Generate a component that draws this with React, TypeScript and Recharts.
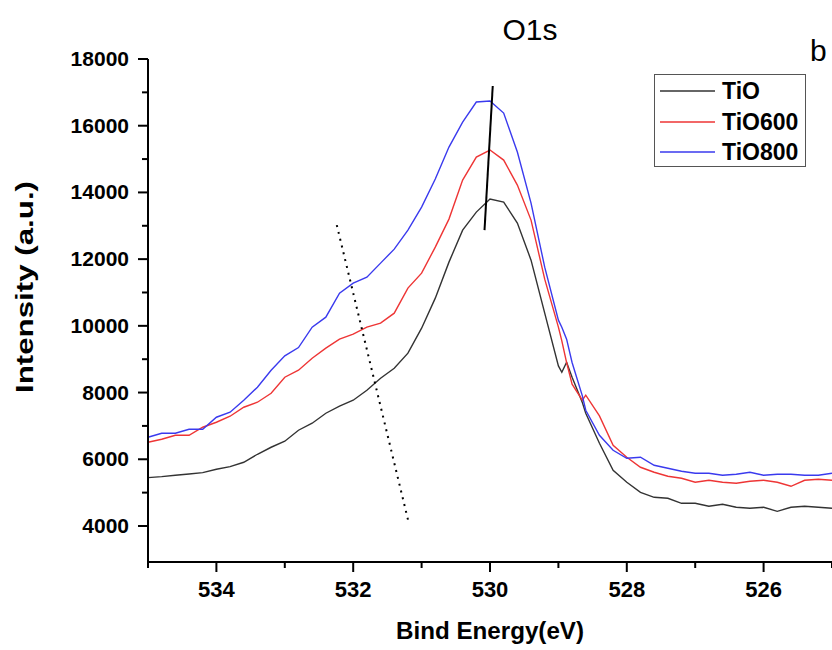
import type { ReactElement } from 'react';
import { Label, Legend, Line, LineChart, ReferenceLine, XAxis, YAxis } from 'recharts';

const FONT = '"Liberation Sans", Arial, sans-serif';

// binding energy (eV), high to low
const energy = [
  535.0, 534.8, 534.6, 534.4, 534.2, 534.0, 533.8, 533.6, 533.4, 533.2,
  533.0, 532.8, 532.6, 532.4, 532.2, 532.0, 531.8, 531.6, 531.4, 531.2,
  531.0, 530.8, 530.6, 530.4, 530.2, 530.0, 529.8, 529.6, 529.4, 529.2,
  529.0, 528.95, 528.88, 528.8, 528.65, 528.6, 528.4, 528.2, 528.0, 527.8,
  527.6, 527.4, 527.2, 527.0, 526.8, 526.6, 526.4, 526.2, 526.0, 525.8,
  525.6, 525.4, 525.2, 525.0,
];

const tio = [
  5450, 5480, 5520, 5560, 5600, 5700, 5780, 5910, 6150, 6360,
  6540, 6870, 7080, 7380, 7590, 7770, 8070, 8430, 8730, 9180,
  9930, 10830, 11910, 12870, 13410, 13800, 13710, 13080, 11970, 10380,
  8800, 8610, 8910, 8460, 7700, 7380, 6480, 5670, 5310, 5010,
  4860, 4830, 4680, 4680, 4590, 4650, 4560, 4530, 4560, 4440,
  4560, 4590, 4560, 4530,
];

const tio600 = [
  6510, 6600, 6720, 6720, 6960, 7110, 7290, 7560, 7710, 7980,
  8460, 8670, 9030, 9330, 9600, 9750, 9960, 10080, 10380, 11130,
  11580, 12360, 13200, 14370, 15060, 15270, 14970, 14220, 13170, 11400,
  9960, 9550, 8900, 8250, 7770, 7920, 7300, 6420, 6060, 5760,
  5610, 5490, 5430, 5310, 5370, 5310, 5280, 5340, 5370, 5310,
  5190, 5370, 5400, 5370,
];

const tio800 = [
  6660, 6780, 6780, 6900, 6900, 7260, 7410, 7770, 8160, 8670,
  9100, 9350, 9960, 10260, 10980, 11280, 11460, 11880, 12300, 12870,
  13560, 14400, 15360, 16110, 16710, 16740, 16380, 15210, 13680, 11760,
  10170, 9960, 9600, 8900, 7900, 7470, 6720, 6270, 6030, 6060,
  5820, 5730, 5640, 5580, 5580, 5520, 5550, 5610, 5520, 5550,
  5550, 5520, 5520, 5580,
];

const xTicks = [525, 526, 527, 528, 529, 530, 531, 532, 533, 534, 535];
const yTicks = [4000, 5000, 6000, 7000, 8000, 9000, 10000, 11000, 12000, 13000, 14000, 15000, 16000, 17000, 18000];

// guide lines drawn on the figure (peak shift and shoulder)
const peakGuide = [
  { x: 529.96, y: 17190 },
  { x: 530.08, y: 12870 },
];
const shoulderGuide = [
  { x: 532.24, y: 13020 },
  { x: 531.19, y: 4110 },
];

const rows = energy.map((e, i) => ({ energy: e, tio: tio[i], tio600: tio600[i], tio800: tio800[i] }));

function XTick(props: any) {
  const { x, y, payload } = props;
  const major = payload.value % 2 === 0;
  return (
    <g>
      <line x1={x} y1={y} x2={x} y2={y + (major ? 10 : 6)} stroke="#000" strokeWidth={2} />
      {major && (
        <text x={x} y={y + 35} textAnchor="middle" fontFamily={FONT} fontWeight="bold" fontSize={22} fill="#000">
          {payload.value}
        </text>
      )}
    </g>
  );
}

function YTick(props: any) {
  const { x, y, payload } = props;
  const major = payload.value % 2000 === 0;
  return (
    <g>
      <line x1={x - (major ? 10 : 6)} y1={y} x2={x} y2={y} stroke="#000" strokeWidth={2} />
      {major && (
        <text x={x - 19} y={y + 7} textAnchor="end" fontFamily={FONT} fontWeight="bold" fontSize={21} fill="#000">
          {payload.value}
        </text>
      )}
    </g>
  );
}

function LegendBox(props: any) {
  const { payload } = props;
  return (
    <div
      style={{
        width: 152,
        height: 93,
        border: '1px solid #555',
        boxSizing: 'border-box',
        background: '#fff',
        paddingTop: 1,
      }}
    >
      {payload.map((p: any) => (
        <div key={p.value} style={{ display: 'flex', alignItems: 'center', height: 30.5 }}>
          <svg width={62} height={4} style={{ display: 'block' }}>
            <line x1={5} y1={2} x2={60} y2={2} stroke={p.color} strokeWidth={1.3} />
          </svg>
          <span style={{ marginLeft: 5, font: `bold 23px ${FONT}`, color: '#000', lineHeight: '26px' }}>{p.value}</span>
        </div>
      ))}
    </div>
  );
}

export default function App(): ReactElement {
  return (
    <div style={{ position: 'absolute', left: 0, top: 0, width: 832, height: 650, overflow: 'hidden', background: '#fff' }}>
      <LineChart width={832} height={650} data={rows} margin={{ top: 59, right: 0, bottom: 28, left: 0 }}>
        <XAxis
          dataKey="energy"
          type="number"
          domain={[525, 535]}
          reversed
          ticks={xTicks}
          interval={0}
          tickSize={0}
          tickMargin={0}
          tick={<XTick />}
          axisLine={{ stroke: '#000', strokeWidth: 2 }}
          height={60}
        >
          <Label
            content={() => (
              <text
                x={490}
                y={639}
                textAnchor="middle"
                fontFamily={FONT}
                fontWeight="bold"
                fontSize={24}
                textLength={188}
                lengthAdjust="spacingAndGlyphs"
                fill="#000"
              >
                Bind Energy(eV)
              </text>
            )}
          />
        </XAxis>
        <YAxis
          type="number"
          domain={[2920, 18000]}
          ticks={yTicks}
          interval={0}
          tickSize={0}
          tickMargin={0}
          tick={<YTick />}
          axisLine={{ stroke: '#000', strokeWidth: 2 }}
          width={148}
        >
          <Label
            content={() => (
              <text
                x={25}
                y={287}
                transform="rotate(-90 25 287)"
                textAnchor="middle"
                dominantBaseline="central"
                fontFamily={FONT}
                fontWeight="bold"
                fontSize={23}
                textLength={212}
                lengthAdjust="spacingAndGlyphs"
                fill="#000"
              >
                Intensity (a.u.)
              </text>
            )}
          />
        </YAxis>
        <Legend
          layout="vertical"
          align="center"
          verticalAlign="middle"
          content={<LegendBox />}
          wrapperStyle={{ left: 654, top: 74, width: 152, height: 93 }}
        />
        <Line type="linear" dataKey="tio" name="TiO" stroke="#333333" strokeWidth={1.4} dot={false} isAnimationActive={false} />
        <Line type="linear" dataKey="tio600" name="TiO600" stroke="#ee3535" strokeWidth={1.4} dot={false} isAnimationActive={false} />
        <Line type="linear" dataKey="tio800" name="TiO800" stroke="#3a3aee" strokeWidth={1.4} dot={false} isAnimationActive={false} />
        <ReferenceLine segment={peakGuide} stroke="#000" strokeWidth={2} />
        <ReferenceLine segment={shoulderGuide} stroke="#000" strokeWidth={2} strokeDasharray="2 5" />
      </LineChart>
      <div
        style={{ position: 'absolute', left: 460, top: 12, width: 140, textAlign: 'center', font: `30px ${FONT}`, lineHeight: '36px', color: '#000' }}
      >
        O1s
      </div>
      <div style={{ position: 'absolute', left: 810, top: 33, font: `30px ${FONT}`, lineHeight: '36px', color: '#000' }}>b</div>
    </div>
  );
}
